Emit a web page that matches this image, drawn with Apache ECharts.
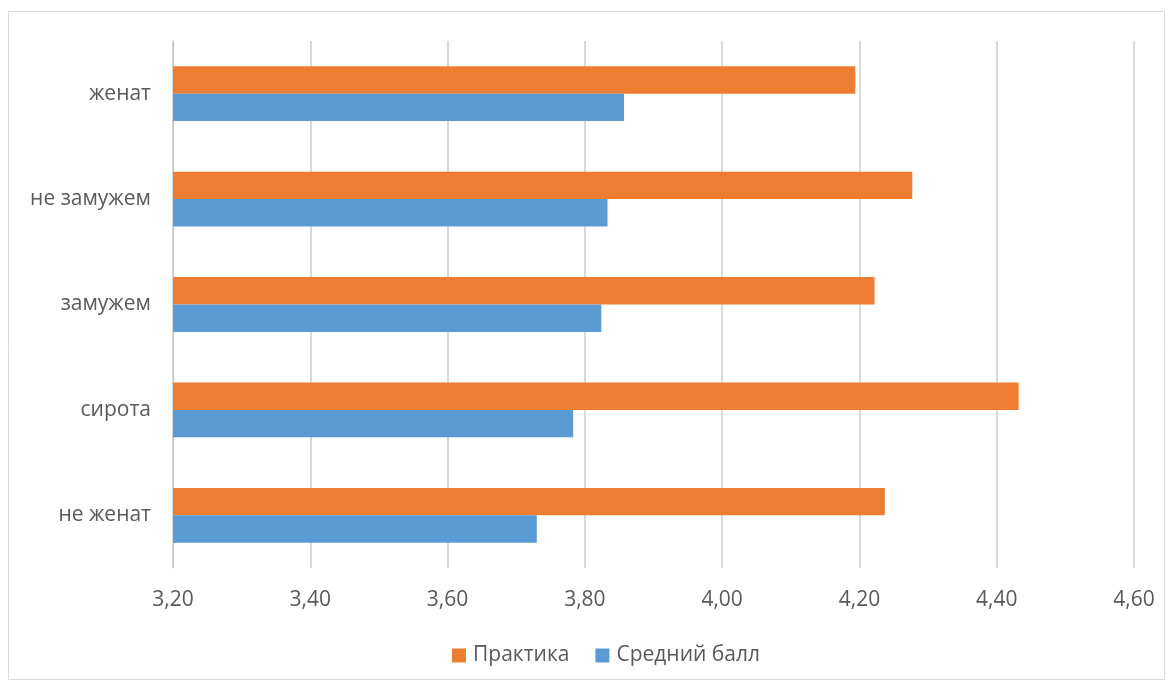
<!DOCTYPE html>
<html>
<head>
<meta charset="utf-8">
<script src="https://cdn.jsdelivr.net/npm/echarts@6/dist/echarts.min.js"></script>
<style>
  html, body { margin: 0; padding: 0; background: #fff; }
  #chart { width: 1171px; height: 684px; }
</style>
</head>
<body>
<div id="chart"></div>
<script>
// Categories listed bottom-to-top (category axis grows upward)
const categories = ['не женат', 'сирота', 'замужем', 'не замужем', 'женат'];
const practice = [4.237, 4.432, 4.222, 4.277, 4.194];
const avgScore = [3.730, 3.783, 3.824, 3.833, 3.857];
const seriesNames = ['Практика', 'Средний балл'];
const axisMin = 3.2;
const axisMax = 4.6;
const axisStep = 0.2;

const fontFam = '"Open Sans", "Noto Sans", sans-serif';
const chart = echarts.init(document.getElementById('chart'), null, { renderer: 'canvas' });

chart.setOption({
  animation: false,
  backgroundColor: '#ffffff',
  graphic: [{
    type: 'rect',
    shape: { x: 8.5, y: 11.5, width: 1156, height: 668 },
    style: { fill: 'none', stroke: '#d9d9d9', lineWidth: 1 },
    silent: true
  }],
  grid: { left: 173, right: 37, top: 41, bottom: 116, containLabel: false },
  legend: {
    top: 640,
    left: 447,
    itemWidth: 14,
    itemHeight: 14,
    itemGap: 26,
    icon: 'rect',
    textStyle: { color: '#595959', fontSize: 21, fontFamily: fontFam, padding: [0, 0, 0, 2] },
    data: seriesNames
  },
  xAxis: {
    type: 'value',
    min: axisMin,
    max: axisMax,
    interval: axisStep,
    axisLine: { show: false },
    axisTick: { show: false },
    splitLine: { lineStyle: { color: '#d9d9d9', width: 2 } },
    axisLabel: {
      color: '#595959',
      fontSize: 21,
      fontFamily: fontFam,
      margin: 22,
      formatter: v => v.toFixed(2).replace('.', ',')
    }
  },
  yAxis: {
    type: 'category',
    data: categories,
    axisLine: { show: true, lineStyle: { color: '#bfbfbf', width: 1 } },
    axisTick: { show: false },
    axisLabel: { color: '#595959', fontSize: 21, fontFamily: fontFam, margin: 22 }
  },
  series: [
    {
      name: seriesNames[0],
      type: 'bar',
      data: practice,
      itemStyle: { color: '#ed7d31' },
      barGap: '0%',
      barCategoryGap: '48%'
    },
    {
      name: seriesNames[1],
      type: 'bar',
      data: avgScore,
      itemStyle: { color: '#5b9bd5' },
      barGap: '0%',
      barCategoryGap: '48%'
    }
  ]
});
</script>
</body>
</html>
